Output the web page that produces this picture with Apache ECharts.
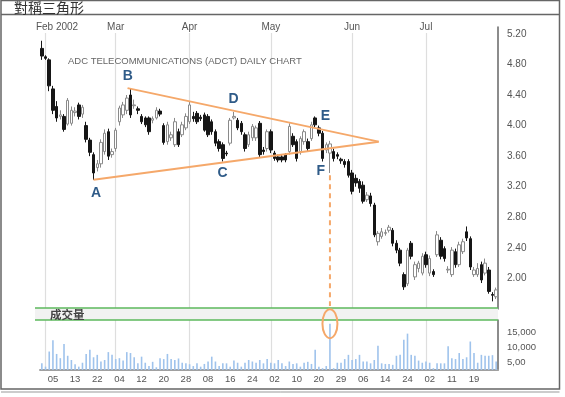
<!DOCTYPE html>
<html>
<head>
<meta charset="utf-8">
<script src="https://cdn.jsdelivr.net/npm/echarts@6/dist/echarts.min.js"></script>
<style>
html,body{margin:0;padding:0;background:#fff;}
#main{width:565px;height:397px;}
</style>
</head>
<body>
<div id="main"></div>
<script>
// trading days 2002
var janDays = [31];
var febDays = [1,4,5,6,7,8,11,12,13,14,15,19,20,21,22,25,26,27,28];
var marDays = [1,4,5,6,7,8,11,12,13,14,15,18,19,20,21,22,25,26,27,28];
var aprDays = [1,2,3,4,5,8,9,10,11,12,15,16,17,18,19,22,23,24,25,26,29,30];
var mayDays = [1,2,3,6,7,8,9,10,13,14,15,16,17,20,21,22,23,24,28,29,30,31];
var junDays = [3,4,5,6,7,10,11,12,13,14,17,18,19,20,21,24,25,26,27,28];
var julDays = [1,2,3,5,8,9,10,11,12,15,16,17,18,19,22,23,24,25,26,29];

// month lines / labels on top, day labels at the bottom
var monthStarts = ['02-01','03-01','04-01','05-01','06-03','07-01'];
var monthNames = ['Feb 2002','Mar','Apr','May','Jun','Jul'];
var dayTicks = ['02-05','02-13','02-22','03-04','03-12','03-20','03-28','04-08','04-16','04-24',
	'05-02','05-10','05-20','05-29','06-06','06-14','06-24','07-02','07-11','07-19'];

// [open, close, low, high]
var janCandles = [[5.01,4.91,4.86,5.11]];
var febCandles = [
	[4.90,4.88,4.86,4.92],[4.86,4.52,4.45,4.88],[4.48,4.20,4.15,4.52],[4.25,4.10,4.05,4.32],
	[4.12,4.14,4.08,4.20],[4.12,3.95,3.92,4.15],[4.02,4.33,4.00,4.36],[4.03,4.20,4.00,4.25],
	[4.17,4.19,4.12,4.24],[4.27,4.12,4.08,4.30],[4.15,4.24,4.10,4.27],[4.00,3.82,3.78,4.05],
	[3.81,3.65,3.60,3.84],[3.62,3.38,3.29,3.65],[3.45,3.50,3.40,3.55],[3.50,3.78,3.45,3.82],
	[3.66,3.90,3.62,3.95],[3.92,3.60,3.55,3.96],[3.62,3.66,3.58,3.70]
];
var marCandles = [
	[3.70,3.94,3.66,3.97],[4.05,4.23,4.00,4.26],[4.14,4.27,4.10,4.31],[4.20,4.36,4.15,4.40],
	[4.40,4.14,4.10,4.49],[4.26,4.27,4.22,4.34],[4.22,4.20,4.15,4.25],[4.12,4.05,4.02,4.15],
	[4.10,4.01,3.98,4.12],[4.10,3.92,3.88,4.12],[4.07,4.09,4.03,4.12],[4.10,4.20,4.08,4.24],
	[4.19,4.15,4.12,4.22],[4.00,3.78,3.75,4.03],[3.79,4.01,3.75,4.05],[3.84,3.88,3.80,3.92],
	[3.75,4.05,3.72,4.10],[3.92,3.75,3.72,3.96],[3.88,4.01,3.85,4.05],[3.97,4.12,3.94,4.16]
];
var aprCandles = [
	[4.05,4.27,4.02,4.31],[4.12,4.09,4.05,4.18],[4.16,4.05,4.02,4.19],[4.11,4.09,4.06,4.14],
	[4.14,3.94,3.92,4.17],[4.12,3.88,3.85,4.15],[4.05,3.92,3.88,4.08],[3.92,3.77,3.73,3.95],
	[3.79,3.70,3.66,3.82],[3.75,3.57,3.53,3.78],[3.64,3.63,3.60,3.67],[3.77,4.07,3.74,4.10],
	[4.10,4.12,4.08,4.18],[4.07,3.97,3.94,4.10],[4.03,3.92,3.88,4.06],[3.88,3.70,3.66,3.91],
	[3.75,3.88,3.72,3.92],[3.84,3.99,3.80,4.02],[3.84,3.97,3.80,4.00],[4.03,3.62,3.58,4.06],
	[3.68,3.66,3.62,3.72],[3.70,3.92,3.66,3.95]
];
var mayCandles = [
	[3.92,3.68,3.64,3.95],[3.64,3.57,3.54,3.67],[3.59,3.55,3.52,3.62],[3.59,3.55,3.52,3.62],
	[3.62,3.55,3.52,3.64],[3.66,3.99,3.62,4.03],[3.86,3.75,3.72,3.90],[3.79,3.57,3.53,3.82],
	[3.66,3.83,3.62,3.86],[3.79,3.92,3.75,3.95],[3.79,3.70,3.66,3.83],[3.83,4.01,3.80,4.05],
	[4.10,4.01,3.98,4.12],[3.97,3.90,3.86,4.00],[3.90,3.57,3.53,3.93],[3.68,3.75,3.64,3.78],
	[3.64,3.76,3.38,3.80],[3.66,3.57,3.53,3.70],[3.62,3.60,3.56,3.65],[3.56,3.54,3.50,3.58],
	[3.53,3.49,3.45,3.56],[3.53,3.35,3.32,3.56]
];
var junCandles = [
	[3.38,3.14,3.10,3.42],[3.31,3.25,3.20,3.36],[3.27,3.18,3.12,3.30],[3.22,3.01,2.98,3.27],
	[3.03,3.09,3.00,3.13],[3.08,2.98,2.94,3.12],[2.96,2.57,2.54,2.99],[2.48,2.59,2.43,2.62],
	[2.55,2.61,2.52,2.66],[2.59,2.60,2.56,2.64],[2.63,2.67,2.60,2.70],[2.63,2.46,2.42,2.66],
	[2.46,2.37,2.33,2.50],[2.37,2.20,2.16,2.40],[2.05,1.89,1.85,2.08],[1.93,2.37,1.90,2.40],
	[2.46,2.29,2.25,2.49],[2.02,2.18,1.98,2.22],[2.13,2.20,2.08,2.23],[2.07,2.29,2.04,2.33]
];
var julCandles = [
	[2.31,2.18,2.14,2.35],[2.07,2.26,2.03,2.30],[2.09,2.05,2.02,2.12],[2.31,2.57,2.28,2.62],
	[2.50,2.29,2.25,2.54],[2.39,2.26,2.22,2.42],[2.11,2.12,2.07,2.16],[2.05,2.37,2.02,2.41],
	[2.35,2.18,2.14,2.39],[2.18,2.44,2.15,2.48],[2.35,2.48,2.32,2.52],[2.61,2.53,2.49,2.68],
	[2.52,2.15,2.11,2.55],[2.05,2.11,2.02,2.15],[2.05,2.13,2.02,2.20],[2.18,1.98,1.94,2.22],
	[2.07,2.20,2.04,2.26],[2.11,1.83,1.80,2.15],[1.79,1.78,1.70,1.82],[1.76,1.85,1.73,1.88]
];

// 成交量
var janVol = [2200];
var febVol = [1100,6100,9800,5300,3900,8600,4700,3300,1900,1100,2400,5300,6700,4200,5000,2800,3300,5900,5000];
var marVol = [3600,3900,3100,5900,5600,4200,2200,4400,2400,1300,2700,900,3900,3600,5300,3600,3300,3800,2400,2200];
var aprVol = [1900,1300,2200,1100,2000,2800,4400,2800,1300,2200,2200,1100,3100,2400,1100,2400,3300,2800,2400,3300,2200,3600];
var mayVol = [2400,2200,3300,2200,1300,2800,2000,2200,1100,2400,2700,2000,6700,1100,600,1300,15300,600,2400,2400,3600,5000];
var junVol = [3300,3600,5000,2800,2800,2200,3300,8000,2200,2000,2000,1700,4700,5000,10000,12000,5000,4700,3100,2400];
var julVol = [2800,2400,600,2200,2200,2200,7800,3900,3600,5600,3600,4200,9400,5600,2400,5000,4700,4700,4900,2800];

var priceTicks = [2.00,2.40,2.80,3.20,3.60,4.00,4.40,4.80,5.20];
var volTicks = [5000,10000,15000];
var volTickText = ['5,00','10,000','15,000'];

// triangle annotation, [day index, price]
var ptA = [14, 3.29], ptB = [23.2, 4.49], ptApex = [91.2, 3.79];
var letters = ['A','B','C','D','E','F'];
var letterPos = [[14.7,3.12],[23.3,4.65],[48.9,3.38],[51.9,4.35],[76.8,4.13],[75.5,3.41]];
var breakDay = 78, dashFrom = 3.35, dashTo = 1.64, ringVol = 15300;

function pad(n){ return (n < 10 ? '0' : '') + n; }
var dates = [];
[['01',janDays],['02',febDays],['03',marDays],['04',aprDays],['05',mayDays],['06',junDays],['07',julDays]].forEach(function(m){
	m[1].forEach(function(d){ dates.push('2002-' + m[0] + '-' + pad(d)); });
});
var candles = janCandles.concat(febCandles, marCandles, aprCandles, mayCandles, junCandles, julCandles);
var volumes = janVol.concat(febVol, marVol, aprVol, mayVol, junVol, julVol);

function isMonthStart(idx, val){ return monthStarts.indexOf(val.slice(5)) >= 0; }
function isDayTick(idx, val){ return dayTicks.indexOf(val.slice(5)) >= 0; }

var chart = echarts.init(document.getElementById('main'));
var orange = '#f5a86a';
var splitStyle = {show: true, interval: isMonthStart, alignWithLabel: true, lineStyle: {color: '#dedede', width: 1.2}};

var option = {
	animation: false,
	backgroundColor: '#fff',
	title: {
		text: 'ADC TELECOMMUNICATIONS (ADCT) DAILY CHART',
		left: 63, top: 51,
		textStyle: {fontSize: 9.5, fontWeight: 'normal', color: '#666', fontFamily: 'Liberation Sans'}
	},
	grid: [
		{left: 40, right: 67, top: 27, height: 282},
		{left: 40, right: 67, top: 320, height: 50}
	],
	xAxis: [
		{
			type: 'category', gridIndex: 0, data: dates, position: 'top',
			axisLine: {show: false}, axisTick: {show: false},
			splitLine: splitStyle,
			axisLabel: {
				interval: isMonthStart, margin: -6, color: '#555', fontSize: 10,
				fontFamily: 'Liberation Sans', backgroundColor: '#fff', padding: [1, 2],
				formatter: function(v){
					var k = monthStarts.indexOf(v.slice(5));
					return k === 0 ? '{f|' + monthNames[k] + '}' : monthNames[k];
				},
				rich: {f: {fontSize: 10, color: '#555', fontFamily: 'Liberation Sans', padding: [0, 0, 0, 23]}}
			}
		},
		{
			type: 'category', gridIndex: 1, data: dates, position: 'bottom',
			axisLine: {show: true, lineStyle: {color: '#a0a0a0', width: 2}},
			axisTick: {show: false},
			splitLine: splitStyle,
			axisLabel: {
				interval: isDayTick, margin: 4, color: '#555', fontSize: 9.5,
				fontFamily: 'Liberation Sans',
				formatter: function(v){ return v.slice(8, 10); }
			}
		}
	],
	yAxis: [
		{
			type: 'value', gridIndex: 0, position: 'right',
			min: 1.6, max: 5.29, interval: 0.4,
			axisLine: {show: true, lineStyle: {color: '#666', width: 1.5}},
			axisTick: {show: false}, splitLine: {show: false},
			axisLabel: {
				margin: 9, color: '#555', fontSize: 10, fontFamily: 'Liberation Sans',
				formatter: function(v){
					for (var i = 0; i < priceTicks.length; i++) {
						if (Math.abs(priceTicks[i] - v) < 1e-6) return v.toFixed(2);
					}
					return '';
				}
			}
		},
		{
			type: 'value', gridIndex: 1, position: 'right',
			min: 0, max: 16500, interval: 5000,
			axisLine: {show: true, lineStyle: {color: '#666', width: 1.5}},
			axisTick: {show: false}, splitLine: {show: false},
			axisLabel: {
				margin: 9, color: '#555', fontSize: 9.5, fontFamily: 'Liberation Sans',
				verticalAlign: 'top', padding: [3, 0, 0, 0],
				formatter: function(v){
					var k = volTicks.indexOf(v);
					return k >= 0 ? volTickText[k] : '';
				}
			}
		}
	],
	series: [
		{
			type: 'candlestick', xAxisIndex: 0, yAxisIndex: 0,
			data: candles, barWidth: 3,
			itemStyle: {color: '#ffffff', color0: '#161616', borderColor: '#8a8a8a', borderColor0: '#161616', borderWidth: 1}
		},
		{
			type: 'bar', xAxisIndex: 1, yAxisIndex: 1,
			data: volumes, barWidth: 1.6,
			itemStyle: {color: '#9fc3ec'}
		}
	]
};
chart.setOption(option);

// place annotation through the chart's own scales (fractional day index allowed)
function toPx(grid, x, y){
	var i0 = Math.floor(x), f = x - i0;
	var a = chart.convertToPixel({gridIndex: grid}, [i0, y]);
	if (!f) return a;
	var b = chart.convertToPixel({gridIndex: grid}, [i0 + 1, y]);
	return [a[0] + (b[0] - a[0]) * f, a[1]];
}

var A = toPx(0, ptA[0], ptA[1]), B = toPx(0, ptB[0], ptB[1]), P = toPx(0, ptApex[0], ptApex[1]);
var d1 = toPx(0, breakDay, dashFrom), d2 = toPx(0, breakDay, dashTo);
var ring = toPx(1, breakDay, ringVol);

var els = [
	// frame and title bar
	{type: 'rect', shape: {x: 1, y: 0.5, width: 558.5, height: 388.5}, style: {fill: 'none', stroke: '#666', lineWidth: 1.5}, z: 20},
	{type: 'line', shape: {x1: 1, y1: 14.5, x2: 559.5, y2: 14.5}, style: {stroke: '#666', lineWidth: 1.5}, z: 20},
	{type: 'line', shape: {x1: 1, y1: 392, x2: 559.5, y2: 392}, style: {stroke: '#999', lineWidth: 1}, z: 20},
	{type: 'text', x: 14, y: 7.5, style: {text: '對稱三角形', fill: '#333', font: '14px "Noto Sans CJK TC"', verticalAlign: 'middle'}, z: 20},
	// volume band
	{type: 'rect', shape: {x: 35, y: 308, width: 463, height: 12}, style: {fill: '#f2f2f2'}, z: 15},
	{type: 'line', shape: {x1: 35, y1: 308, x2: 498, y2: 308}, style: {stroke: '#5cb85c', lineWidth: 1.3}, z: 16},
	{type: 'line', shape: {x1: 35, y1: 320, x2: 498, y2: 320}, style: {stroke: '#5cb85c', lineWidth: 1.3}, z: 16},
	{type: 'text', x: 50, y: 314.5, style: {text: '成交量', fill: '#444', font: 'bold 11.5px "Noto Sans CJK TC"', verticalAlign: 'middle'}, z: 16},
	// triangle
	{type: 'line', shape: {x1: B[0], y1: B[1], x2: P[0], y2: P[1]}, style: {stroke: orange, lineWidth: 2}, z: 12},
	{type: 'line', shape: {x1: A[0], y1: A[1], x2: P[0], y2: P[1]}, style: {stroke: orange, lineWidth: 2}, z: 12},
	{type: 'line', shape: {x1: d1[0], y1: d1[1], x2: d2[0], y2: d2[1]}, style: {stroke: orange, lineWidth: 2, lineDash: [5, 4]}, z: 12},
	{type: 'ellipse', shape: {cx: ring[0], cy: ring[1], rx: 7.5, ry: 14.5}, style: {fill: 'none', stroke: orange, lineWidth: 2}, z: 17}
];
letters.forEach(function(t, k){
	var p = toPx(0, letterPos[k][0], letterPos[k][1]);
	els.push({type: 'text', x: p[0], y: p[1], style: {text: t, fill: '#2f5b88', font: 'bold 14px "Liberation Sans"', align: 'center', verticalAlign: 'middle'}, z: 13});
});
chart.setOption({graphic: els});
</script>
</body>
</html>
